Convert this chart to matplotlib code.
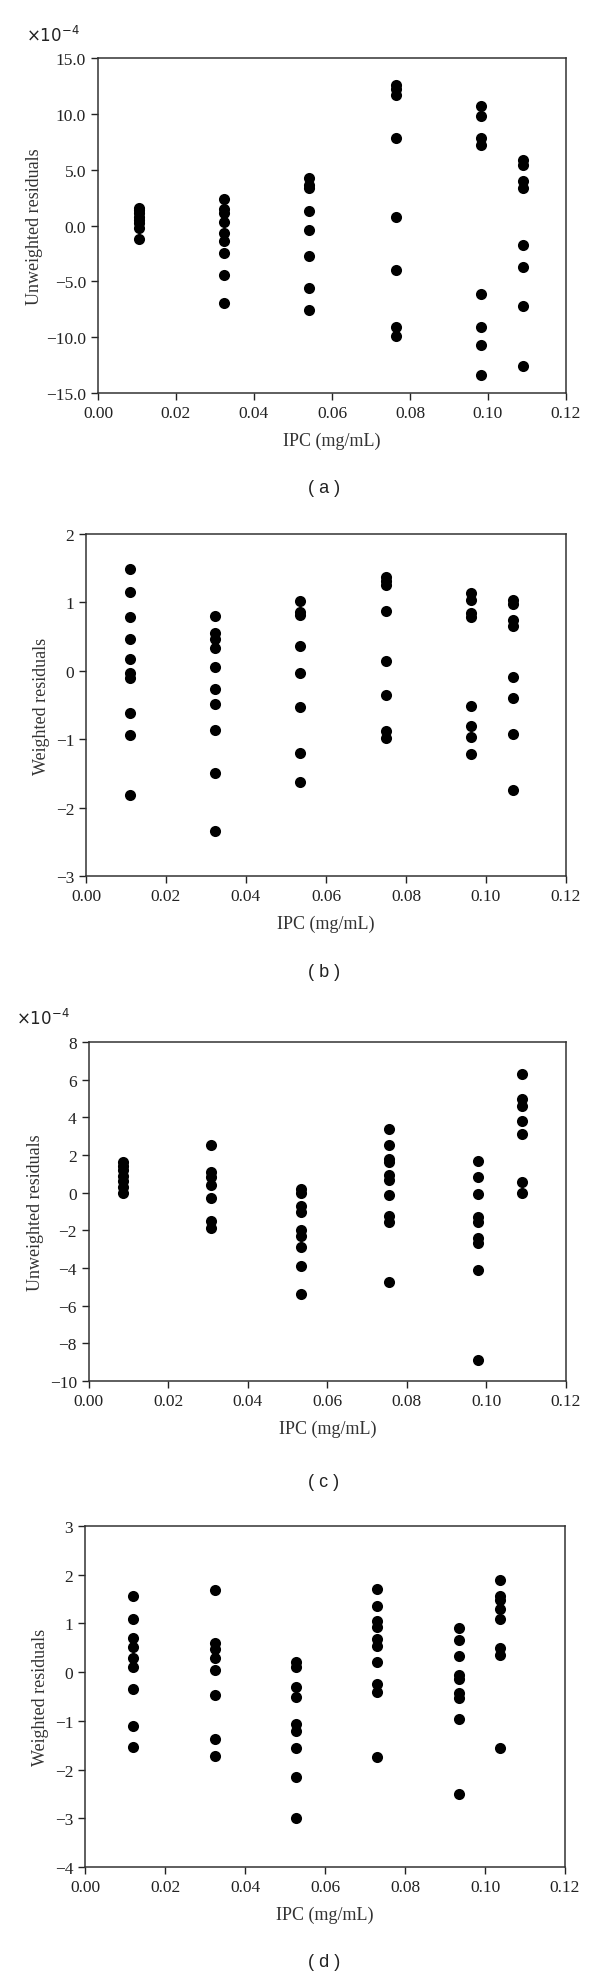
import matplotlib
matplotlib.use("Agg")
import matplotlib.pyplot as plt
from matplotlib.ticker import FuncFormatter

plt.rcParams['font.family'] = ['Liberation Serif', 'DejaVu Serif']

# ---------------------------------------------------
# DATOS
# ---------------------------------------------------
# (a) residuos no ponderados, en unidades de 1e-4
a_x = [0.0105, 0.0324, 0.0542, 0.0763, 0.0982, 0.109]
a_y = [
    [1.6, 1.4, 1.1, 0.8, 0.5, 0.2, -0.2, -1.2],
    [2.4, 1.5, 1.1, 0.3, -0.7, -1.4, -2.5, -4.4, -6.9],
    [4.3, 3.6, 3.4, 1.3, -0.4, -2.7, -5.6, -7.6],
    [12.6, 12.2, 11.7, 7.8, 0.8, -4.0, -9.1, -9.9],
    [10.7, 9.8, 7.8, 7.2, -6.1, -9.1, -10.7, -13.4],
    [5.9, 5.4, 4.0, 3.4, -1.7, -3.7, -7.2, -12.6],
]

# (b) residuos ponderados
b_x = [0.011, 0.0323, 0.0536, 0.0749, 0.0962, 0.1068]
b_y = [
    [1.49, 1.15, 0.79, 0.47, 0.17, -0.03, -0.10, -0.61, -0.94, -1.82],
    [0.80, 0.55, 0.46, 0.33, 0.06, -0.27, -0.49, -0.86, -1.50, -2.34],
    [1.02, 0.86, 0.82, 0.37, -0.03, -0.53, -1.20, -1.62],
    [1.37, 1.31, 1.26, 0.87, 0.14, -0.36, -0.88, -0.98],
    [1.14, 1.04, 0.84, 0.79, -0.52, -0.80, -0.96, -1.21],
    [1.03, 0.97, 0.75, 0.66, -0.09, -0.39, -0.92, -1.74],
]

# (c) residuos no ponderados, en unidades de 1e-4
c_x = [0.0086, 0.0308, 0.0533, 0.0756, 0.0979, 0.109]
c_y = [
    [1.6, 1.4, 1.2, 0.9, 0.6, 0.3, 0.0],
    [2.5, 1.1, 0.8, 0.4, -0.3, -1.5, -1.9],
    [0.2, 0.0, -0.7, -1.05, -2.0, -2.3, -2.9, -3.9, -5.4],
    [3.4, 2.55, 1.8, 1.6, 0.95, 0.65, -0.15, -1.25, -1.55, -4.75],
    [1.7, 0.85, -0.1, -1.3, -1.55, -2.4, -2.7, -4.1, -8.9],
    [6.3, 4.95, 4.6, 3.8, 3.1, 0.55, 0.0],
]

# (d) residuos ponderados
d_x = [0.012, 0.0324, 0.0527, 0.0731, 0.0935, 0.1038]
d_y = [
    [1.57, 1.08, 0.69, 0.52, 0.28, 0.10, -0.35, -1.10, -1.53],
    [1.68, 0.59, 0.47, 0.28, 0.05, -0.47, -1.38, -1.72],
    [0.20, 0.11, -0.30, -0.52, -1.06, -1.21, -1.55, -2.15, -2.99],
    [1.70, 1.35, 1.04, 0.93, 0.67, 0.54, 0.21, -0.25, -0.40, -1.75],
    [0.91, 0.65, 0.33, -0.07, -0.14, -0.42, -0.54, -0.97, -2.50],
    [1.90, 1.57, 1.47, 1.29, 1.08, 0.50, 0.35, -1.56],
]

x_ticks = [0.00, 0.02, 0.04, 0.06, 0.08, 0.10, 0.12]

# ---------------------------------------------------
# FIGURA
# ---------------------------------------------------
fig = plt.figure(figsize=(6, 19.83), dpi=100)

paneles = [
    # (posicion, xs, ys, ylim, yticks, ylabel, formato, factor, letra, y_letra, pad)
    ([0.1633, 0.8013, 0.78, 0.1689], a_x, a_y, (-15, 15), range(-15, 16, 5),
     "Unweighted residuals", "{:.1f}", True, "a", 0.7539, 2),
    ([0.1433, 0.5577, 0.80, 0.1725], b_x, b_y, (-3, 2), range(-3, 3),
     "Weighted residuals", "{:.0f}", False, "b", 0.5098, 4),
    ([0.1478, 0.3031, 0.7955, 0.1710], c_x, c_y, (-10, 8), range(-10, 9, 2),
     "Unweighted residuals", "{:.0f}", True, "c", 0.2526, 4),
    ([0.1417, 0.0580, 0.80, 0.1720], d_x, d_y, (-4, 3), range(-4, 4),
     "Weighted residuals", "{:.0f}", False, "d", 0.0101, 4),
]

for pos, xs, ys, ylim, yticks, ylabel, fmt, factor, letra, y_letra, pad in paneles:
    ax = fig.add_axes(pos)
    for x, grupo in zip(xs, ys):
        ax.scatter([x] * len(grupo), grupo, s=64, color="black", zorder=3,
                   linewidths=0)

    ax.set_xlim(0, 0.12)
    ax.set_ylim(*ylim)
    ax.set_xticks(x_ticks)
    ax.set_yticks(list(yticks))
    ax.xaxis.set_major_formatter(FuncFormatter(lambda v, p: f"{v:.2f}"))
    ax.yaxis.set_major_formatter(
        FuncFormatter(lambda v, p, f=fmt: f.format(v).replace("-", "\u2212")))

    ax.tick_params(direction="out", length=5, width=1, labelsize=12.5,
                   colors="#222222", top=False, right=False)
    for s in ax.spines.values():
        s.set_color("#333333")
        s.set_linewidth(1.1)

    ax.set_xlabel("IPC (mg/mL)", fontsize=13, color="#333333", labelpad=8)
    ax.set_ylabel(ylabel, fontsize=13, color="#333333", labelpad=pad)

    if factor:
        ax.text(-0.04, 1.04, r"$\times 10^{-4}$", transform=ax.transAxes,
                ha="right", va="bottom", fontsize=12, color="#222222",
                family="DejaVu Serif")

    fig.text(0.54, y_letra, f"( {letra} )", ha="center", va="center",
             fontsize=13, family="Liberation Sans", color="#222222")

fig.savefig("out.png", dpi=100)
